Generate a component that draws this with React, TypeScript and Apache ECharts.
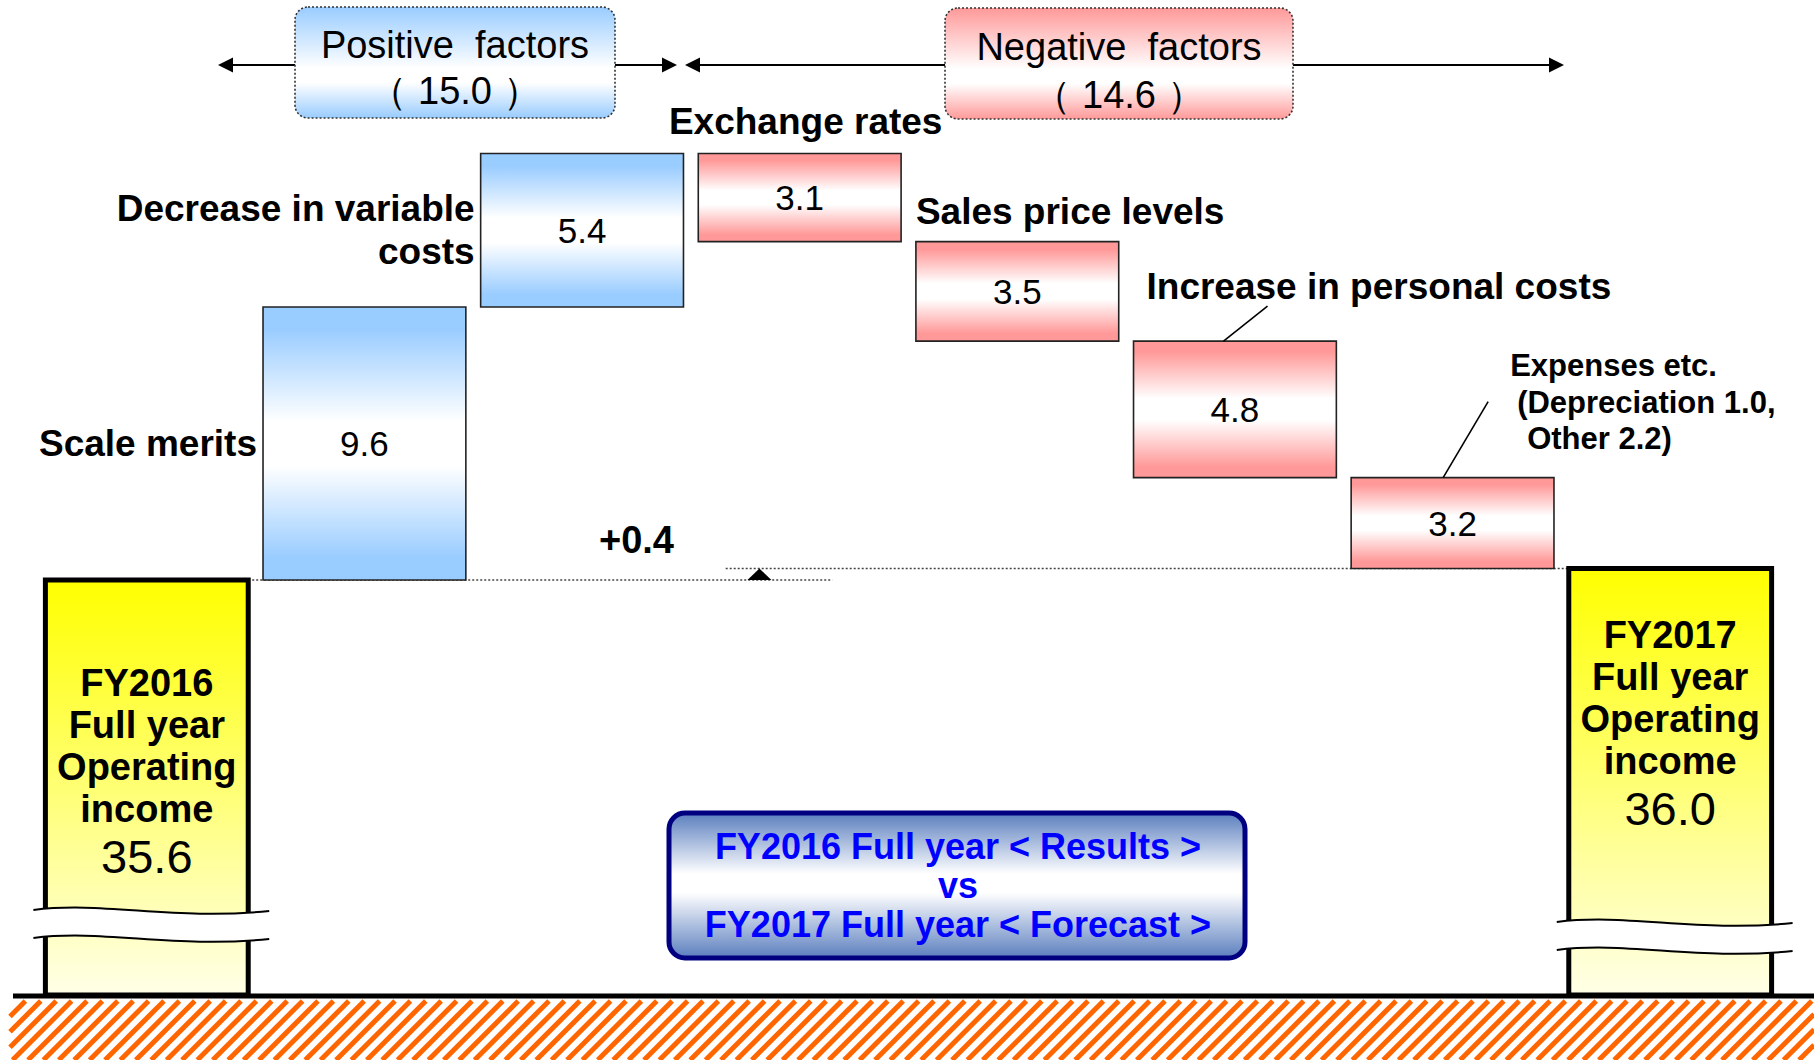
import React, { useEffect, useRef } from "react";
import * as echarts from "echarts";

// ---------------- data ----------------
const categories = [
  "FY2016 Full year Operating income",
  "Scale merits",
  "Decrease in variable costs",
  "Exchange rates",
  "Sales price levels",
  "Increase in personal costs",
  "Expenses etc.",
  "FY2017 Full year Operating income",
];
const startLabelLines = ["FY2016", "Full year", "Operating", "income"];
const endLabelLines = ["FY2017", "Full year", "Operating", "income"];
const startValue = 35.6;
const endValue = 36.0;
const factorLabels = [
  "Scale merits",
  "Decrease in variable\ncosts",
  "Exchange rates",
  "Sales price levels",
  "Increase in personal costs",
  "Expenses etc.\n(Depreciation 1.0,\nOther 2.2)",
];
const factorValues = [9.6, 5.4, -3.1, -3.5, -4.8, -3.2];
const positiveTotal = 15.0;
const negativeTotal = 14.6;
const netChange = 0.4;
const headerTitles = ["Positive  factors", "Negative  factors"];
const comparisonLines = [
  "FY2016 Full year < Results >",
  "vs",
  "FY2017 Full year < Forecast >",
];
const axisMin = 21;
const axisMax = 56;

// ---------------- styling / layout (not data) ----------------
const FONT = "'Liberation Sans', Arial, Helvetica, sans-serif";
const BAR_RATIO = 0.932;
const totalLabelOffset = [103, 66];
const totalBreakOffset = [85, 73];
const factorLabelLayout: any[] = [
  { kind: "left", gap: 6 },
  { kind: "left", gap: 6 },
  { kind: "above", align: "center", dx: 6, dy: -32 },
  { kind: "above", align: "left", dx: 0, dy: -30 },
  { kind: "leader", dx: 13, dy: -55, line: [90, 0, 134, -35] },
  {
    kind: "multi",
    dx: [159, 166, 176],
    dy: -112,
    gap: 36.5,
    line: [92, 0, 137, -76],
  },
];

// ---------------- derived waterfall series ----------------
const factorData: number[][] = [];
{
  let level = startValue;
  factorValues.forEach((v, i) => {
    const next = Math.round((level + v) * 10) / 10;
    factorData.push([i + 1, Math.min(level, next), Math.max(level, next), v]);
    level = next;
  });
}
const totalData = [
  [0, axisMin, startValue],
  [categories.length - 1, axisMin, endValue],
];

const vGrad = (edge: string, mid: string, a = 0.42, b = 0.58) =>
  new echarts.graphic.LinearGradient(0, 0, 0, 1, [
    { offset: 0, color: edge },
    { offset: 0.08, color: edge },
    { offset: a, color: mid },
    { offset: b, color: mid },
    { offset: 0.92, color: edge },
    { offset: 1, color: edge },
  ]);

const txt = (
  text: string,
  x: number,
  y: number,
  size: number,
  bold: boolean,
  align = "center",
  fill = "#000",
  extra: any = {}
) => ({
  type: "text",
  style: {
    text,
    x,
    y,
    fill,
    fontSize: size,
    fontWeight: bold ? "bold" : "normal",
    fontFamily: FONT,
    align,
    verticalAlign: "middle",
    textAlign: align,
    textVerticalAlign: "middle",
    ...extra,
  },
});

const renderTotal = (params: any, api: any) => {
  const i = params.dataIndex;
  const cat = api.value(0);
  const low = api.value(1);
  const high = api.value(2);
  const pTop = api.coord([cat, high]);
  const pBot = api.coord([cat, low]);
  const band = api.size([1, 0])[0];
  const w = band * BAR_RATIO;
  const x = pTop[0] - w / 2;
  const top = pTop[1];
  const bottom = pBot[1];
  const lines = i === 0 ? startLabelLines : endLabelLines;
  const off = totalLabelOffset[i];
  const children: any[] = [
    {
      type: "rect",
      shape: { x, y: top, width: w, height: bottom - top },
      style: {
        fill: new echarts.graphic.LinearGradient(0, 0, 0, 1, [
          { offset: 0, color: "#FFFF00" },
          { offset: 1, color: "#FFFFE8" },
        ]),
        stroke: "#000",
        lineWidth: 5,
      },
    },
  ];
  lines.forEach((t, k) =>
    children.push(txt(t, pTop[0], top + off + k * 42, 38, true))
  );
  children.push(
    txt(Number(high).toFixed(1), pTop[0], top + off + 4 * 42 + 6, 47, false)
  );
  const c1 = bottom - totalBreakOffset[i];
  const c2 = c1 + 28;
  const x0 = x - 12;
  const x1 = x + w + 21;
  const ww = x1 - x0;
  const wave = (c: number) =>
    `M${x0} ${c} C${x0 + 0.3 * ww} ${c - 9} ${x0 + 0.6 * ww} ${c + 11} ${x1} ${c + 1}`;
  const gapPath = `${wave(c1)} L${x1} ${c2 + 1} C${x0 + 0.6 * ww} ${c2 + 11} ${
    x0 + 0.3 * ww
  } ${c2 - 9} ${x0} ${c2} Z`;
  children.push({
    type: "path",
    shape: { pathData: gapPath },
    style: { fill: "#fff", stroke: "none" },
  });
  children.push({
    type: "path",
    shape: { pathData: wave(c1) },
    style: { fill: "none", stroke: "#000", lineWidth: 2 },
  });
  children.push({
    type: "path",
    shape: { pathData: wave(c2) },
    style: { fill: "none", stroke: "#000", lineWidth: 2 },
  });
  return { type: "group", children };
};

const renderFactor = (params: any, api: any) => {
  const i = params.dataIndex;
  const cat = api.value(0);
  const low = api.value(1);
  const high = api.value(2);
  const val = api.value(3);
  const pTop = api.coord([cat, high]);
  const pBot = api.coord([cat, low]);
  const band = api.size([1, 0])[0];
  const w = band * BAR_RATIO;
  const x = pTop[0] - w / 2;
  const y = pTop[1];
  const h = pBot[1] - pTop[1];
  const edge = val > 0 ? "#99CCFF" : "#FF9999";
  const children: any[] = [
    {
      type: "rect",
      shape: { x, y, width: w, height: h },
      style: { fill: vGrad(edge, "#FFFFFF"), stroke: "#222", lineWidth: 1.6 },
    },
    txt(Math.abs(val).toFixed(1), pTop[0], y + h / 2, 35, false),
  ];
  const lay = factorLabelLayout[i];
  const name = factorLabels[i];
  if (lay.kind === "left") {
    children.push(
      txt(name, x - lay.gap, y + h / 2, 37, true, "right", "#000", {
        lineHeight: 43,
      })
    );
  } else if (lay.kind === "above") {
    const ax = lay.align === "center" ? pTop[0] + lay.dx : x + lay.dx;
    children.push(txt(name, ax, y + lay.dy, 37, true, lay.align));
  } else if (lay.kind === "leader") {
    children.push(txt(name, x + lay.dx, y + lay.dy, 37, true, "left"));
    children.push({
      type: "line",
      shape: {
        x1: x + lay.line[0],
        y1: y + lay.line[1],
        x2: x + lay.line[2],
        y2: y + lay.line[3],
      },
      style: { stroke: "#000", lineWidth: 1.6 },
    });
  } else if (lay.kind === "multi") {
    name.split("\n").forEach((ln: string, k: number) => {
      children.push(
        txt(ln, x + lay.dx[k], y + lay.dy + k * lay.gap, 31, true, "left", "#000", {
          lineHeight: 34,
        })
      );
    });
    children.push({
      type: "line",
      shape: {
        x1: x + lay.line[0],
        y1: y + lay.line[1],
        x2: x + lay.line[2],
        y2: y + lay.line[3],
      },
      style: { stroke: "#000", lineWidth: 1.6 },
    });
  }
  return { type: "group", children };
};

const renderNet = (params: any, api: any) => {
  const s = api.value(1);
  const e = api.value(2);
  const band = api.size([1, 0])[0];
  const half = (band * BAR_RATIO) / 2;
  const c0 = api.coord([0, s]);
  const c2 = api.coord([2, s]);
  const c3 = api.coord([3, s]);
  const c7 = api.coord([7, e]);
  const ys = c0[1];
  const ye = c7[1];
  const dotted = { stroke: "#444", lineWidth: 1.5, lineDash: [2, 2] };
  const ax = c3[0] - band * 0.185;
  const len = Math.max(ys - ye, 4);
  const headH = Math.min(47, len);
  const headW = Math.min(23, Math.max(12, headH));
  const shaft = 7.5;
  const pts: number[][] = [
    [ax, ye],
    [ax + headW, ye + headH],
    [ax + shaft, ye + headH],
    [ax + shaft, ys],
    [ax - shaft, ys],
    [ax - shaft, ye + headH],
    [ax - headW, ye + headH],
  ];
  return {
    type: "group",
    children: [
      {
        type: "line",
        shape: { x1: c0[0] + half + 4, y1: ys, x2: c3[0] + band * 0.15, y2: ys },
        style: dotted,
      },
      {
        type: "line",
        shape: { x1: c3[0] - band * 0.34, y1: ye, x2: c7[0] - half, y2: ye },
        style: dotted,
      },
      { type: "polygon", shape: { points: pts }, style: { fill: "#000" } },
      txt("+" + netChange.toFixed(1), c2[0] + band * 0.25, ys - 40, 38, true),
    ],
  };
};

// ---------------- decorative graphics ----------------
const hGrad = (edge: string) =>
  new echarts.graphic.LinearGradient(0, 0, 0, 1, [
    { offset: 0, color: edge },
    { offset: 0.55, color: "#FFFFFF" },
    { offset: 0.68, color: "#FFFFFF" },
    { offset: 1, color: edge },
  ]);

const headerBox = (
  x: number,
  y: number,
  w: number,
  h: number,
  edge: string,
  l1: string,
  l2: string,
  y1: number,
  y2: number
) => ({
  type: "group",
  x,
  y,
  children: [
    {
      type: "rect",
      shape: { x: 0, y: 0, width: w, height: h, r: 13 },
      style: { fill: hGrad(edge), stroke: "#333", lineWidth: 1.6, lineDash: [2, 2] },
    },
    txt(l1, w / 2, y1, 38, false, "center", "#000", { lineHeight: 40 }),
    txt(l2, w / 2, y2, 38, false, "center", "#000", { lineHeight: 40 }),
  ],
});

const arrowHead = (tipX: number, y: number, dir: number) => ({
  type: "polygon",
  shape: {
    points: [
      [tipX, y],
      [tipX - dir * 15, y - 7.5],
      [tipX - dir * 15, y + 7.5],
    ],
  },
  style: { fill: "#000" },
});
const hline = (x1: number, x2: number, y: number, lw = 2) => ({
  type: "line",
  shape: { x1, y1: y, x2, y2: y },
  style: { stroke: "#000", lineWidth: lw },
});

const hatch: any[] = [];
{
  const hx0 = 10;
  const hx1 = 1814;
  const hy0 = 1001;
  const hy1 = 1060;
  const hh = hy1 - hy0;
  for (let xs = hx0 - hh; xs < hx1; xs += 15.4) {
    let xa = xs;
    let ya = hy1;
    let xb = xs + hh;
    let yb = hy0;
    if (xa < hx0) {
      ya = hy1 - (hx0 - xa);
      xa = hx0;
    }
    if (xb > hx1) {
      yb = hy0 + (xb - hx1);
      xb = hx1;
    }
    if (xb <= xa) continue;
    hatch.push({
      type: "line",
      silent: true,
      shape: { x1: xa, y1: ya, x2: xb, y2: yb },
      style: { stroke: "#FF6600", lineWidth: 5 },
    });
  }
}

const boxText = (t: string, y: number) =>
  txt(t, 289, y, 36, true, "center", "#0000FF", { lineHeight: 36 });

const graphics: any[] = [
  ...hatch,
  { ...hline(13, 1814, 996, 5), z: 10 },
  // top double arrows
  hline(228, 296, 65),
  arrowHead(218, 65, -1),
  hline(614, 666, 65),
  arrowHead(677, 65, 1),
  hline(696, 946, 65),
  arrowHead(685, 65, -1),
  hline(1292, 1553, 65),
  arrowHead(1564, 65, 1),
  headerBox(
    295,
    7,
    320,
    111,
    "#99CCFF",
    headerTitles[0],
    "（ " + positiveTotal.toFixed(1) + " ）",
    38,
    84
  ),
  headerBox(
    945,
    8,
    348,
    111,
    "#FF9999",
    headerTitles[1],
    "（ " + negativeTotal.toFixed(1) + " ）",
    39,
    87
  ),
  {
    type: "group",
    x: 669,
    y: 813,
    children: [
      {
        type: "rect",
        shape: { x: 0, y: 0, width: 576, height: 145, r: 16 },
        style: {
          fill: new echarts.graphic.LinearGradient(0, 0, 0, 1, [
            { offset: 0, color: "#5A7EBE" },
            { offset: 0.42, color: "#FFFFFF" },
            { offset: 0.55, color: "#FFFFFF" },
            { offset: 1, color: "#5A7EBE" },
          ]),
          stroke: "#000080",
          lineWidth: 5,
        },
      },
      boxText(comparisonLines[0], 33),
      boxText(comparisonLines[1], 72),
      boxText(comparisonLines[2], 111),
    ],
  },
];

export default function App() {
  const ref = useRef<HTMLDivElement>(null);
  useEffect(() => {
    if (!ref.current) return;
    const chart = echarts.init(ref.current, null, { renderer: "svg" });
    chart.setOption({
      animation: false,
      backgroundColor: "#ffffff",
      grid: { left: 38, right: 35, top: 0, bottom: 65 },
      xAxis: { type: "category", data: categories, show: false },
      yAxis: { type: "value", min: axisMin, max: axisMax, show: false },
      series: [
        {
          type: "custom",
          name: "Net change",
          data: [[0, startValue, endValue]],
          encode: { x: 0, y: [1, 2] },
          renderItem: renderNet,
          clip: false,
          z: 2,
        },
        {
          type: "custom",
          name: "Operating income",
          data: totalData,
          encode: { x: 0, y: [1, 2] },
          renderItem: renderTotal,
          clip: false,
          z: 3,
        },
        {
          type: "custom",
          name: "Factors",
          data: factorData,
          encode: { x: 0, y: [1, 2] },
          renderItem: renderFactor,
          clip: false,
          z: 4,
        },
      ],
      graphic: graphics,
    });
    return () => chart.dispose();
  }, []);
  return (
    <div
      ref={ref}
      style={{ position: "absolute", left: 0, top: 0, width: 1814, height: 1060 }}
    />
  );
}
